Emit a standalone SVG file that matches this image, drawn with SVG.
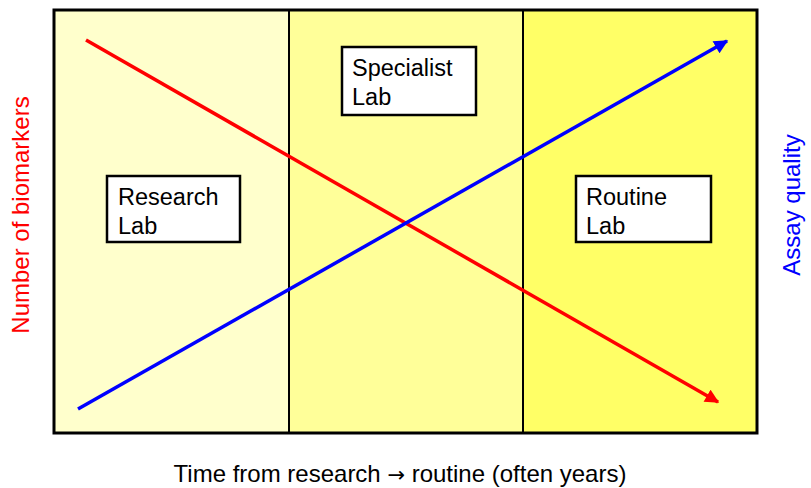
<svg xmlns="http://www.w3.org/2000/svg" width="811" height="488" viewBox="0 0 811 488">
<style>
text{font-family:"Liberation Sans",Arial,sans-serif;font-size:23.5px;fill:#000}
.lbl{font-size:24px}
.box{fill:#fff;stroke:#000;stroke-width:2.5}
.div{stroke:#000;stroke-width:2}
</style>
<defs>
<marker id="ar" viewBox="0 0 10 10" refX="9" refY="5" markerWidth="4.2" markerHeight="4" orient="auto" markerUnits="strokeWidth"><path d="M0,0L10,5L0,10z" fill="#f00"/></marker>
<marker id="ab" viewBox="0 0 10 10" refX="9" refY="5" markerWidth="4.2" markerHeight="4" orient="auto" markerUnits="strokeWidth"><path d="M0,0L10,5L0,10z" fill="#00f"/></marker>
</defs>
<rect width="811" height="488" fill="#fff"/>
<g id="panels">
<rect x="54" y="10" width="235" height="423" fill="#FFFFCC"/>
<rect x="289" y="10" width="234" height="423" fill="#FFFF99"/>
<rect x="523" y="10" width="234" height="423" fill="#FFFF66"/>
<line class="div" x1="289" y1="10" x2="289" y2="433"/>
<line class="div" x1="523" y1="10" x2="523" y2="433"/>
<rect x="54" y="10" width="703" height="423" fill="none" stroke="#000" stroke-width="3"/>
</g>
<g id="connectors">
<line x1="86" y1="40" x2="718" y2="402" stroke="#f00" stroke-width="3.5" marker-end="url(#ar)"/>
<line x1="78" y1="409" x2="727" y2="41" stroke="#00f" stroke-width="3.5" marker-end="url(#ab)"/>
</g>
<g id="research">
<rect class="box" x="107" y="176" width="133" height="66"/>
<text x="118" y="205">Research</text>
<text x="118" y="234">Lab</text>
</g>
<g id="specialist">
<rect class="box" x="342" y="47" width="134" height="68"/>
<text x="352" y="76">Specialist</text>
<text x="352" y="105">Lab</text>
</g>
<g id="routine">
<rect class="box" x="576" y="176" width="135" height="66"/>
<text x="586" y="205">Routine</text>
<text x="586" y="234">Lab</text>
</g>
<text class="lbl" transform="translate(29,215) rotate(-90)" text-anchor="middle" style="fill:#f00">Number of biomarkers</text>
<text class="lbl" transform="translate(800,205) rotate(-90)" text-anchor="middle" style="fill:#00f">Assay quality</text>
<text class="lbl" x="400" y="482" text-anchor="middle">Time from research <tspan style="font-family:'DejaVu Sans',sans-serif;font-size:21px">→</tspan> routine (often years)</text>
</svg>
